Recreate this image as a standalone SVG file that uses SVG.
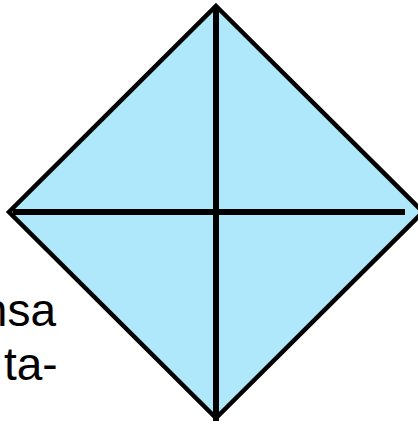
<svg xmlns="http://www.w3.org/2000/svg" width="418" height="421" viewBox="0 0 418 421">
  <style>
    .txt { font-family: "Liberation Sans", Arial, sans-serif; font-size: 46px; fill: #000; }
    .edge { fill: #AEE8FA; stroke: #000; stroke-width: 4.5; stroke-linejoin: miter; }
    .axis { stroke: #000; stroke-width: 6; fill: none; }
  </style>
  <rect width="418" height="421" fill="#fff"/>
  <g id="text-fragment">
    <text class="txt" x="56" y="326" text-anchor="end">nsa</text>
    <text class="txt" x="4" y="380">ta-</text>
  </g>
  <g id="diamond">
    <polygon class="edge" points="216,6 423,212 216,418 9,212"/>
  </g>
  <g id="connectors">
    <line class="axis" x1="216" y1="6" x2="216" y2="421"/>
    <line class="axis" x1="13" y1="212" x2="405" y2="212"/>
  </g>
</svg>
